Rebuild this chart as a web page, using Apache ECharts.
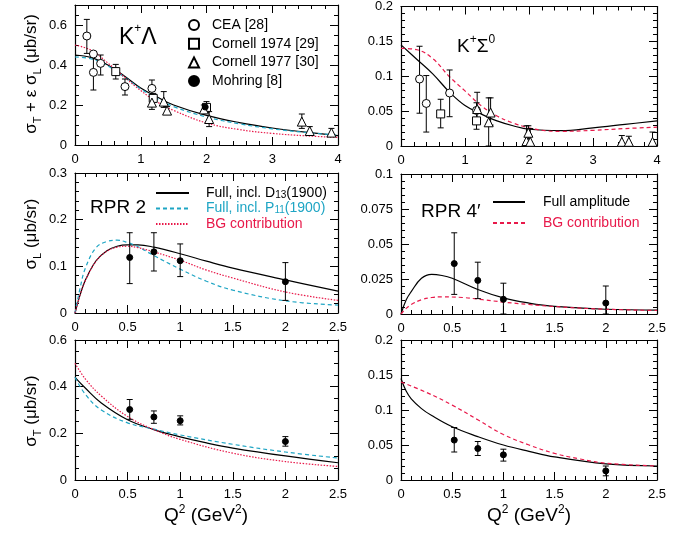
<!DOCTYPE html>
<html>
<head>
<meta charset="utf-8">
<script src="https://cdn.jsdelivr.net/npm/echarts@6/dist/echarts.min.js"></script>
<style>
  html, body { margin: 0; padding: 0; background: #fff; }
  #chart { width: 689px; height: 535px; }
</style>
</head>
<body>
<div id="chart"></div>
<script>
// ---- data: [Q2, value, low, high] for points, [Q2, value] for curves ----

// K+ Lambda, sigma_T + eps sigma_L
const lamCEA = [[0.18, 0.545, 0.458, 0.628], [0.28, 0.455, 0.443, 0.467], [0.28, 0.363, 0.275, 0.45],
  [0.39, 0.408, 0.35, 0.45], [0.76, 0.292, 0.25, 0.33], [1.17, 0.283, 0.242, 0.325]];
const lamC74 = [[0.62, 0.367, 0.33, 0.403], [1.19, 0.233, 0.217, 0.258], [2.0, 0.188, 0.163, 0.217]];
const lamC77 = [[1.17, 0.212, 0.178, 0.242], [1.35, 0.217, 0.188, 0.267], [1.40, 0.172, 0.158, 0.192],
  [1.96, 0.178, 0.165, 0.2], [2.04, 0.13, 0.092, 0.167], [3.45, 0.117, 0.083, 0.155],
  [3.57, 0.07, 0.058, 0.092], [3.9, 0.062, 0.05, 0.083]];
const lamMoh = [[1.98, 0.19, 0.175, 0.205]];
const lamD13 = [[0, 0.45], [0.25, 0.437], [0.5, 0.40], [0.75, 0.345], [1, 0.285], [1.25, 0.24], [1.5, 0.2],
  [2, 0.148], [2.5, 0.112], [3, 0.085], [3.5, 0.064], [4, 0.047]];
const lamP11 = [[0, 0.44], [0.25, 0.43], [0.5, 0.395], [0.75, 0.34], [1, 0.28], [1.25, 0.232], [1.5, 0.192],
  [2, 0.14], [2.5, 0.106], [3, 0.081], [3.5, 0.063], [4, 0.05]];
const lamBG = [[0, 0.50], [0.25, 0.473], [0.5, 0.41], [0.75, 0.34], [1, 0.272], [1.25, 0.215], [1.5, 0.173],
  [2, 0.11], [2.5, 0.077], [3, 0.058], [3.5, 0.046], [4, 0.038]];

// K+ Sigma0, sigma_T + eps sigma_L
const sigCEA = [[0.29, 0.096, 0.047, 0.143], [0.395, 0.061, 0.02, 0.101], [0.76, 0.076, 0.042, 0.109],
  [1.18, 0.051, 0.04, 0.062]];
const sigC74 = [[0.62, 0.046, 0.026, 0.067], [1.18, 0.036, 0.024, 0.048]];
const sigC77 = [[1.19, 0.053, 0.04, 0.077], [1.37, 0.034, 0, 0.069], [1.4, 0.048, 0.03, 0.069],
  [1.96, 0.007, 0, 0.029], [1.99, 0.019, 0.01, 0.029], [2.02, 0.006, 0, 0.025],
  [3.45, 0.006, 0, 0.015], [3.56, 0.006, 0, 0.014], [3.93, 0.006, 0, 0.02]];
const sigFull = [[0, 0.145], [0.25, 0.124], [0.5, 0.103], [0.77, 0.076], [1, 0.058], [1.25, 0.046],
  [1.5, 0.036], [1.75, 0.029], [2, 0.024], [2.5, 0.022], [3, 0.026], [3.5, 0.031], [4, 0.036]];
const sigBG = [[0, 0.14], [0.25, 0.138], [0.5, 0.125], [0.75, 0.1], [1, 0.079], [1.25, 0.058], [1.5, 0.043],
  [1.75, 0.033], [2, 0.026], [2.25, 0.022], [2.5, 0.021], [3, 0.0225], [3.5, 0.025], [4, 0.027]];

// RPR 2 / RPR 4' : sigma_L
const rpr2L = [[0.52, 0.119, 0.063, 0.172], [0.75, 0.131, 0.09, 0.172], [1.0, 0.112, 0.078, 0.148], [2.0, 0.067, 0.027, 0.108]];
const rpr4L = [[0.52, 0.036, 0.014, 0.058], [0.75, 0.024, 0.011, 0.037], [1.0, 0.0105, 0, 0.022], [2.0, 0.0078, 0, 0.02]];
const d13L = [[0, 0], [0.05, 0.04], [0.1, 0.071], [0.2, 0.112], [0.3, 0.133], [0.4, 0.143], [0.5, 0.146],
  [0.6, 0.146], [0.75, 0.141], [1, 0.127], [1.25, 0.111], [1.5, 0.096], [2, 0.071], [2.5, 0.047]];
const p11L = [[0, 0], [0.05, 0.055], [0.1, 0.097], [0.2, 0.14], [0.3, 0.153], [0.4, 0.156], [0.5, 0.151],
  [0.6, 0.142], [0.75, 0.123], [1, 0.094], [1.25, 0.068], [1.5, 0.049], [2, 0.026], [2.5, 0.017]];
const bgL = [[0, 0], [0.05, 0.04], [0.1, 0.07], [0.2, 0.111], [0.3, 0.132], [0.4, 0.141], [0.5, 0.143],
  [0.6, 0.14], [0.75, 0.131], [1, 0.113], [1.25, 0.092], [1.5, 0.075], [2, 0.045], [2.5, 0.027]];
const full4L = [[0, 0], [0.05, 0.01], [0.1, 0.016], [0.2, 0.0255], [0.3, 0.0283], [0.4, 0.0275], [0.5, 0.0255],
  [0.75, 0.0175], [1, 0.0115], [1.25, 0.0078], [1.5, 0.0054], [2, 0.0034], [2.5, 0.0028]];
const bg4L = [[0, 0], [0.05, 0.004], [0.1, 0.0068], [0.2, 0.0102], [0.3, 0.0118], [0.4, 0.0122], [0.6, 0.0118],
  [0.8, 0.0102], [1, 0.0085], [1.25, 0.0068], [1.5, 0.0053], [2, 0.0034], [2.5, 0.0025]];

// RPR 2 / RPR 4' : sigma_T
const rpr2T = [[0.52, 0.302, 0.26, 0.345], [0.75, 0.27, 0.243, 0.296], [1.0, 0.254, 0.236, 0.275], [2.0, 0.165, 0.145, 0.186]];
const rpr4T = [[0.52, 0.057, 0.04, 0.075], [0.75, 0.045, 0.035, 0.055], [1.0, 0.036, 0.027, 0.044], [2.0, 0.013, 0.006, 0.02]];
const d13T = [[0, 0.44], [0.1, 0.393], [0.25, 0.33], [0.5, 0.258], [0.75, 0.216], [1, 0.185], [1.25, 0.159],
  [1.5, 0.137], [2, 0.103], [2.5, 0.074]];
const p11T = [[0, 0.44], [0.1, 0.366], [0.25, 0.3], [0.5, 0.245], [0.75, 0.218], [1, 0.193], [1.5, 0.153],
  [2, 0.12], [2.5, 0.094]];
const bgT = [[0, 0.5], [0.1, 0.432], [0.25, 0.36], [0.5, 0.272], [0.75, 0.216], [1, 0.174], [1.5, 0.115],
  [2, 0.079], [2.5, 0.058]];
const full4T = [[0, 0.145], [0.05, 0.127], [0.1, 0.116], [0.2, 0.102], [0.3, 0.092], [0.5, 0.076], [0.75, 0.062],
  [1, 0.05], [1.25, 0.041], [1.5, 0.033], [2, 0.023], [2.5, 0.02]];
const bg4T = [[0, 0.14], [0.25, 0.125], [0.5, 0.107], [0.75, 0.086], [1, 0.065], [1.25, 0.05], [1.5, 0.038],
  [1.75, 0.03], [2, 0.024], [2.5, 0.02]];

// legend texts
const legendNames = {
  CEA: 'CEA [28]', C74: 'Cornell 1974 [29]', C77: 'Cornell 1977 [30]', Moh: 'Mohring [8]',
  D13: 'Full, incl. D{sub|13}(1900)', P11: 'Full, incl. P{sub|11}(1900)', BG: 'BG contribution',
  Full: 'Full amplitude', BG4: 'BG contribution'
};

const FONT = '"Liberation Sans", Arial, Helvetica, sans-serif';
const CYAN = '#1ea5c4';
const RED = '#e8194a';

// panel layout (pixels)
const panels = [
  { rect: { left: 75, top: 5, width: 263, height: 140 }, xMax: 4, xInt: 1, yMax: 0.7, yInt: 0.2, yMinor: 4, hideMaxY: true },
  { rect: { left: 401, top: 5, width: 256, height: 141 }, xMax: 4, xInt: 1, yMax: 0.2, yInt: 0.05, yMinor: 5 },
  { rect: { left: 75, top: 173, width: 263, height: 140 }, xMax: 2.5, xInt: 0.5, yMax: 0.3, yInt: 0.1, yMinor: 5 },
  { rect: { left: 401, top: 174, width: 256, height: 140 }, xMax: 2.5, xInt: 0.5, yMax: 0.1, yInt: 0.025, yMinor: 5 },
  { rect: { left: 75, top: 340, width: 263, height: 140 }, xMax: 2.5, xInt: 0.5, yMax: 0.6, yInt: 0.2, yMinor: 4 },
  { rect: { left: 401, top: 340, width: 256, height: 140 }, xMax: 2.5, xInt: 0.5, yMax: 0.2, yInt: 0.05, yMinor: 5 }
];

// axis titles drawn as text (rotated for the y axes)
const axisTitles = [
  { x: 31, y: 74, rotate: true, text: '{t|σ}{s|T}{t| + ε σ}{s|L}{t| (μb/sr)}' },
  { x: 31, y: 234, rotate: true, text: '{t|σ}{s|L}{t| (μb/sr)}' },
  { x: 31, y: 411, rotate: true, text: '{t|σ}{s|T}{t| (μb/sr)}' },
  { x: 206, y: 516, rotate: false, text: '{q|Q}{p|2}{q| (GeV}{p|2}{q|)}' },
  { x: 529, y: 516, rotate: false, text: '{q|Q}{p|2}{q| (GeV}{p|2}{q|)}' }
];
const titleRich = {
  t: { fontSize: 17, fontFamily: FONT, fill: '#000', lineHeight: 24, verticalAlign: 'middle' },
  q: { fontSize: 19, fontFamily: FONT, fill: '#000', lineHeight: 24, verticalAlign: 'middle' },
  s: { fontSize: 11, fontFamily: FONT, fill: '#000', lineHeight: 12, verticalAlign: 'bottom' },
  p: { fontSize: 12, fontFamily: FONT, fill: '#000', lineHeight: 12, verticalAlign: 'top' }
};

const grids = [], xAxes = [], yAxes = [], series = [];

panels.forEach((p, i) => {
  grids.push(Object.assign({}, p.rect));
  const line = { show: true, onZero: false, lineStyle: { color: '#000', width: 1.2 } };
  const tick = { show: true, inside: true, length: 8, lineStyle: { color: '#000', width: 1 } };
  const common = { gridIndex: i, type: 'value', min: 0, splitLine: { show: false }, axisLine: line, axisTick: tick };

  const xBase = Object.assign({}, common, {
    max: p.xMax, interval: p.xInt,
    minorTick: { show: true, splitNumber: 5, length: 4, lineStyle: { color: '#000', width: 1 } }
  });
  xAxes.push(Object.assign({}, xBase, { position: 'bottom', axisLabel: { fontSize: 13, color: '#000' } }));
  xAxes.push(Object.assign({}, xBase, { position: 'top', axisLabel: { show: false } }));

  const yBase = Object.assign({}, common, {
    max: p.yMax, interval: p.yInt,
    minorTick: { show: true, splitNumber: p.yMinor, length: 4, lineStyle: { color: '#000', width: 1 } }
  });
  yAxes.push(Object.assign({}, yBase, {
    position: 'left',
    axisLabel: {
      fontSize: 13, color: '#000',
      formatter: (v) => (p.hideMaxY && v > p.yMax - 1e-9) ? '' : String(Number(v.toFixed(4)))
    }
  }));
  yAxes.push(Object.assign({}, yBase, { position: 'right', axisLabel: { show: false } }));
});

function errorBars(params, api) {
  const x = api.value(0);
  const lo = api.coord([x, api.value(2)]);
  const hi = api.coord([x, api.value(3)]);
  const cap = 3;
  const style = { stroke: '#000', lineWidth: 1 };
  return {
    type: 'group',
    children: [
      { type: 'line', shape: { x1: lo[0], y1: lo[1], x2: hi[0], y2: hi[1] }, style },
      { type: 'line', shape: { x1: lo[0] - cap, y1: lo[1], x2: lo[0] + cap, y2: lo[1] }, style },
      { type: 'line', shape: { x1: hi[0] - cap, y1: hi[1], x2: hi[0] + cap, y2: hi[1] }, style }
    ]
  };
}

const markerStyles = {
  CEA: { symbol: 'circle', symbolSize: 8, itemStyle: { color: '#fff', borderColor: '#000', borderWidth: 1, opacity: 1 } },
  C74: { symbol: 'rect', symbolSize: 8, itemStyle: { color: '#fff', borderColor: '#000', borderWidth: 1, opacity: 1 } },
  C77: { symbol: 'triangle', symbolSize: 9, itemStyle: { color: '#fff', borderColor: '#000', borderWidth: 1, opacity: 1 } },
  Moh: { symbol: 'circle', symbolSize: 6, itemStyle: { color: '#000', borderColor: '#000', borderWidth: 1, opacity: 1 } }
};

function addPoints(panel, name, data) {
  series.push({
    type: 'custom', name: 'err' + panel + name, xAxisIndex: panel * 2, yAxisIndex: panel * 2,
    renderItem: errorBars, data: data, encode: { x: 0, y: [2, 3] }, z: 3, clip: true, silent: true
  });
  series.push(Object.assign({
    type: 'scatter', name: name, xAxisIndex: panel * 2, yAxisIndex: panel * 2,
    data: data, encode: { x: 0, y: 1 }, z: 4, silent: true
  }, markerStyles[name]));
}

const lineStyles = {
  D13: { color: '#000', width: 1.2, type: 'solid' },
  P11: { color: CYAN, width: 1.2, type: [4, 3] },
  BG: { color: RED, width: 1.2, type: [1.5, 1.5] },
  Full: { color: '#000', width: 1.2, type: 'solid' },
  BG4: { color: RED, width: 1.2, type: [4, 3] }
};

function addCurve(panel, name, data) {
  series.push({
    type: 'line', name: name, xAxisIndex: panel * 2, yAxisIndex: panel * 2,
    data: data, smooth: 0.4, symbol: 'none', showSymbol: false, clip: true, silent: true,
    lineStyle: lineStyles[name], itemStyle: { color: lineStyles[name].color }, z: 2
  });
}

// panel 0: K+ Lambda
addPoints(0, 'CEA', lamCEA);
addPoints(0, 'C74', lamC74);
addPoints(0, 'C77', lamC77);
addPoints(0, 'Moh', lamMoh);
addCurve(0, 'D13', lamD13);
addCurve(0, 'P11', lamP11);
addCurve(0, 'BG', lamBG);
// panel 1: K+ Sigma0
addPoints(1, 'CEA', sigCEA);
addPoints(1, 'C74', sigC74);
addPoints(1, 'C77', sigC77);
addCurve(1, 'Full', sigFull);
addCurve(1, 'BG4', sigBG);
// panel 2, 3: sigma_L
addPoints(2, 'Moh', rpr2L);
addCurve(2, 'D13', d13L);
addCurve(2, 'P11', p11L);
addCurve(2, 'BG', bgL);
addPoints(3, 'Moh', rpr4L);
addCurve(3, 'Full', full4L);
addCurve(3, 'BG4', bg4L);
// panel 4, 5: sigma_T
addPoints(4, 'Moh', rpr2T);
addCurve(4, 'D13', d13T);
addCurve(4, 'P11', p11T);
addCurve(4, 'BG', bgT);
addPoints(5, 'Moh', rpr4T);
addCurve(5, 'Full', full4T);
addCurve(5, 'BG4', bg4T);

const legendText = (color) => ({
  color: color, fontSize: 14, fontFamily: FONT, lineHeight: 14,
  rich: { sub: { color: color, fontSize: 10, fontFamily: FONT, verticalAlign: 'bottom', lineHeight: 10 } }
});
const hiddenSymbol = { color: 'transparent', borderColor: 'transparent', borderWidth: 0, opacity: 0 };

const legends = [
  {
    left: 188, top: 18, padding: 0, orient: 'vertical', itemWidth: 10, itemHeight: 10, itemGap: 4.7,
    selectedMode: false, formatter: (n) => legendNames[n],
    textStyle: Object.assign(legendText('#000'), { padding: [0, 0, 0, 8] }),
    data: ['CEA', 'C74', 'C77', 'Moh']
  },
  {
    left: 155, top: 186, padding: 0, orient: 'vertical', itemWidth: 33, itemHeight: 14, itemGap: 1.5,
    selectedMode: false, formatter: (n) => legendNames[n], itemStyle: hiddenSymbol,
    textStyle: Object.assign(legendText('#000'), { padding: [0, 0, 0, 12] }),
    data: [
      { name: 'D13', textStyle: legendText('#000') },
      { name: 'P11', textStyle: legendText(CYAN) },
      { name: 'BG', textStyle: legendText(RED) }
    ]
  },
  {
    left: 492, top: 195, padding: 0, orient: 'vertical', itemWidth: 32, itemHeight: 14, itemGap: 7,
    selectedMode: false, formatter: (n) => legendNames[n], itemStyle: hiddenSymbol,
    textStyle: Object.assign(legendText('#000'), { padding: [0, 0, 0, 13] }),
    data: [
      { name: 'Full', textStyle: legendText('#000') },
      { name: 'BG4', textStyle: legendText(RED) }
    ]
  }
];

const labelRich = (size) => ({
  a: { fontSize: size, fontFamily: FONT, fill: '#000', lineHeight: size + 3, verticalAlign: 'bottom' },
  p: { fontSize: 12, fontFamily: FONT, fill: '#000', lineHeight: size + 3, verticalAlign: 'top' }
});
const panelLabels = [
  { left: 119, top: 23, size: 23, text: '{a|K}{p|+}{a|Λ}' },
  { left: 457, top: 34, size: 19, text: '{a|K}{p|+}{a|Σ}{p|0}' },
  { left: 90, top: 198, size: 19, text: '{a|RPR 2}' },
  { left: 421, top: 202, size: 19, text: '{a|RPR 4′}' }
];

const graphics = panelLabels.map((l) => ({
  type: 'text', left: l.left, top: l.top,
  style: { text: l.text, rich: labelRich(l.size), fill: '#000' }
})).concat(axisTitles.map((a) => ({
  type: 'text', x: a.x, y: a.y, rotation: a.rotate ? Math.PI / 2 : 0,
  style: { text: a.text, rich: titleRich, fill: '#000', align: 'center', verticalAlign: 'middle' }
})));

const chart = echarts.init(document.getElementById('chart'));
chart.setOption({
  animation: false,
  grid: grids,
  xAxis: xAxes,
  yAxis: yAxes,
  legend: legends,
  series: series,
  graphic: graphics
});
</script>
</body>
</html>
